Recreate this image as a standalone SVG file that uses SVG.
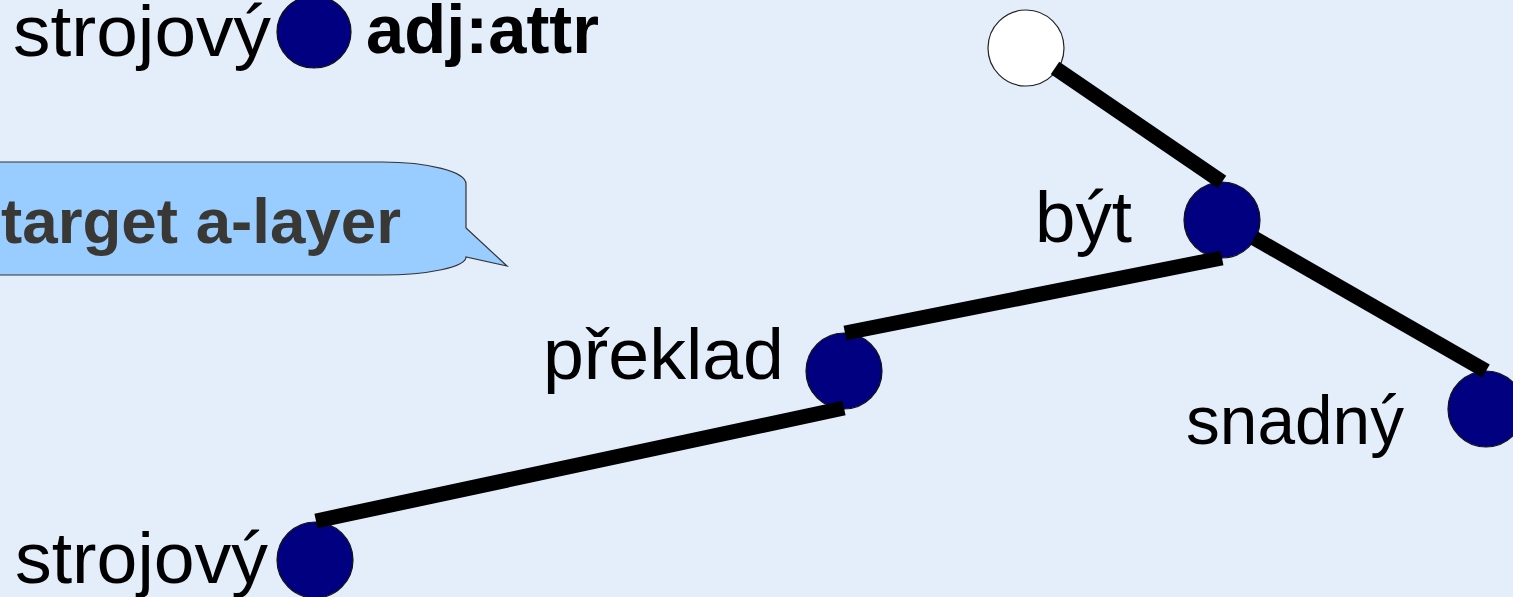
<svg xmlns="http://www.w3.org/2000/svg" width="1513" height="597" viewBox="0 0 1513 597">
<style>
.lbl{font-family:"Liberation Sans",Arial,sans-serif;font-size:72px;fill:#000}
.bold{font-family:"Liberation Sans",Arial,sans-serif;font-weight:bold}
.node{fill:#000080;stroke:#111;stroke-width:1.2}
.root{fill:#ffffff;stroke:#222;stroke-width:1.2}
.edge{stroke:#000;stroke-width:15;stroke-linecap:butt;fill:none}
</style>
<rect x="0" y="0" width="1513" height="597" fill="#e3eefa"/>
<g id="legend">
<text class="lbl" x="13" y="56" style="font-size:73px" textLength="258" lengthAdjust="spacingAndGlyphs">strojový</text>
<ellipse class="node" cx="314" cy="32" rx="37" ry="36"/>
<text class="bold" x="366" y="53" font-size="69" fill="#000" textLength="233" lengthAdjust="spacingAndGlyphs">adj:attr</text>
</g>
<g id="callout">
<path d="M -20 162 H 382 A 84 22 0 0 1 466 184 V 228 L 507 266 L 466 257 A 84 18 0 0 1 382 275 H -20 Z" fill="#99ccff" stroke="#333" stroke-width="1.2"/>
<text class="bold" x="1" y="243" font-size="63" fill="#3a3835" textLength="400" lengthAdjust="spacingAndGlyphs">target a-layer</text>
</g>
<g id="n-root"><circle class="root" cx="1026" cy="48" r="38"/></g>
<g id="n-snadny"><circle class="node" cx="1486" cy="409" r="38"/><text class="lbl" x="1186" y="444" style="font-size:69px" textLength="218" lengthAdjust="spacingAndGlyphs">snadný</text></g>
<g id="n-preklad"><circle class="node" cx="844" cy="371" r="38"/><text class="lbl" x="543" y="379" style="font-size:73px" textLength="241" lengthAdjust="spacingAndGlyphs">překlad</text></g>
<g id="n-strojovy"><circle class="node" cx="315" cy="560" r="38"/><text class="lbl" x="15" y="583" style="font-size:72px" textLength="253" lengthAdjust="spacingAndGlyphs">strojový</text></g>
<g id="n-byt"><circle class="node" cx="1222" cy="220" r="38"/><text class="lbl" x="1035" y="242" style="font-size:72px" textLength="97" lengthAdjust="spacingAndGlyphs">být</text></g>
<g id="edges">
<line class="edge" x1="1055" y1="68" x2="1222" y2="182"/>
<line class="edge" x1="1222" y1="258" x2="845" y2="333"/>
<line class="edge" x1="1254" y1="238" x2="1486" y2="371"/>
<line class="edge" x1="844" y1="408" x2="316" y2="521"/>
</g>
</svg>
